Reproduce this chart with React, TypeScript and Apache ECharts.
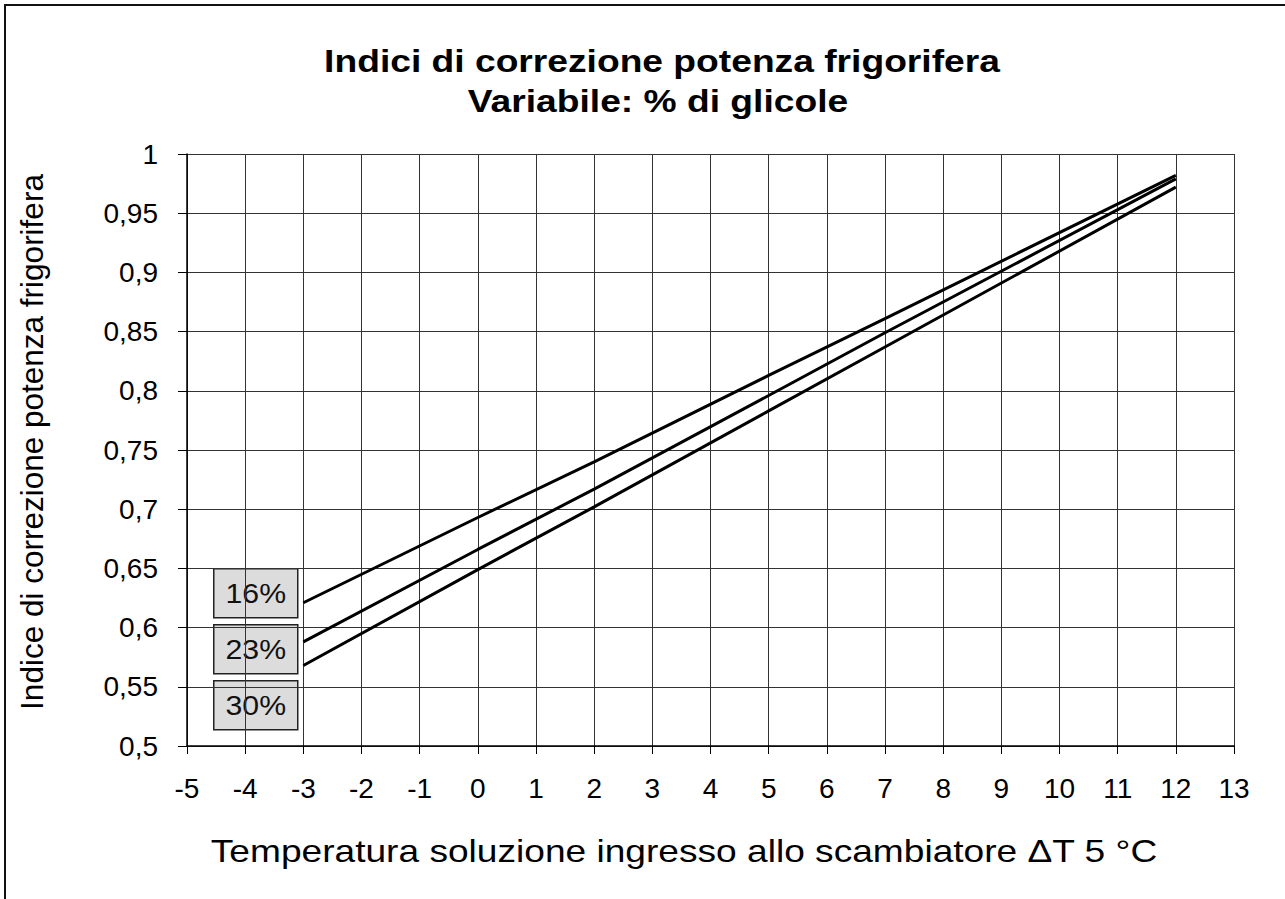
import React, { useEffect, useRef } from "react";
import * as echarts from "echarts";

const xValues = [-3, 0, 2, 5, 7, 12];
const glycol16 = [0.621, 0.693, 0.74, 0.813, 0.861, 0.982];
const glycol23 = [0.588, 0.666, 0.717, 0.796, 0.849, 0.979];
const glycol30 = [0.568, 0.649, 0.702, 0.783, 0.837, 0.972];
const seriesNames = ["16%", "23%", "30%"];
const titleLines = ["Indici di correzione potenza frigorifera", "Variabile: % di glicole"];
const xTitle = "Temperatura soluzione ingresso allo scambiatore \u0394T 5 \u00B0C";
const yTitle = "Indice di correzione potenza frigorifera";

const FONT = "'Liberation Sans', Arial, Helvetica, sans-serif";

export default function App() {
  const ref = useRef<HTMLDivElement>(null);
  useEffect(() => {
    if (!ref.current) return;
    const chart = echarts.init(ref.current, null, { renderer: "svg" });
    const allSeries = [glycol16, glycol23, glycol30];
    const labelBoxes = seriesNames.map((name, i) => ({
      type: "group",
      left: 213,
      top: 568 + i * 56,
      children: [
        {
          type: "rect",
          shape: { x: 0, y: 0, width: 84, height: 49 },
          style: { fill: "#dcdcdc", stroke: "#222", lineWidth: 1.5 },
        },
        {
          type: "text",
          x: 42,
          y: 25,
          scaleX: 1.08,
          style: {
            text: name,
            font: `28px ${FONT}`,
            fill: "#111",
            align: "center",
            verticalAlign: "middle",
          },
        },
      ],
    }));
    chart.setOption({
      animation: false,
      backgroundColor: "#fff",
      grid: { left: 187, right: 51, top: 154, bottom: 153, containLabel: false },
      xAxis: {
        type: "value",
        min: -5,
        max: 13,
        interval: 1,
        axisLine: { show: true, onZero: false, lineStyle: { color: "#000", width: 1.5 } },
        axisTick: { show: true, length: 8, lineStyle: { color: "#000" } },
        axisLabel: { margin: 28, fontSize: 28, fontFamily: FONT, color: "#000" },
        splitLine: { show: true, lineStyle: { color: "#333", width: 1 } },
      },
      yAxis: {
        type: "value",
        min: 0.5,
        max: 1,
        interval: 0.05,
        axisLine: { show: true, onZero: false, lineStyle: { color: "#000", width: 1.5 } },
        axisTick: { show: true, length: 9, lineStyle: { color: "#000" } },
        axisLabel: {
          margin: 29,
          fontSize: 28,
          fontFamily: FONT,
          color: "#000",
          formatter: (v: number) => String(+v.toFixed(2)).replace(".", ","),
        },
        splitLine: { show: true, lineStyle: { color: "#333", width: 1 } },
      },
      series: allSeries.map((vals, i) => ({
        name: seriesNames[i],
        type: "line",
        data: xValues.map((x, j) => [x, vals[j]]),
        symbol: "none",
        lineStyle: { color: "#000", width: 3 },
      })),
      graphic: [
        {
          type: "text",
          x: 662,
          y: 61,
          scaleX: 1.2,
          originX: 0,
          style: {
            text: titleLines[0],
            font: `bold 31px ${FONT}`,
            fill: "#000",
            align: "center",
            verticalAlign: "middle",
          },
        },
        {
          type: "text",
          x: 658,
          y: 101,
          scaleX: 1.2,
          style: {
            text: titleLines[1],
            font: `bold 31px ${FONT}`,
            fill: "#000",
            align: "center",
            verticalAlign: "middle",
          },
        },
        {
          type: "text",
          x: 684,
          y: 851,
          scaleX: 1.16,
          style: {
            text: xTitle,
            font: `32px ${FONT}`,
            fill: "#000",
            align: "center",
            verticalAlign: "middle",
          },
        },
        {
          type: "text",
          x: 32,
          y: 442,
          rotation: Math.PI / 2,
          style: {
            text: yTitle,
            font: `31.5px ${FONT}`,
            fill: "#000",
            align: "center",
            verticalAlign: "middle",
          },
        },
        ...labelBoxes,
      ],
    });
    return () => chart.dispose();
  }, []);
  return (
    <div
      style={{
        position: "fixed",
        left: 0,
        top: 0,
        width: 1285,
        height: 899,
        background: "#fff",
      }}
    >
      <div ref={ref} style={{ width: 1285, height: 899 }} />
      <div
        style={{
          position: "absolute",
          left: 4,
          top: 4,
          width: 1400,
          height: 1000,
          borderLeft: "2px solid #111",
          borderTop: "2px solid #111",
          pointerEvents: "none",
          boxSizing: "border-box",
        }}
      />
    </div>
  );
}
